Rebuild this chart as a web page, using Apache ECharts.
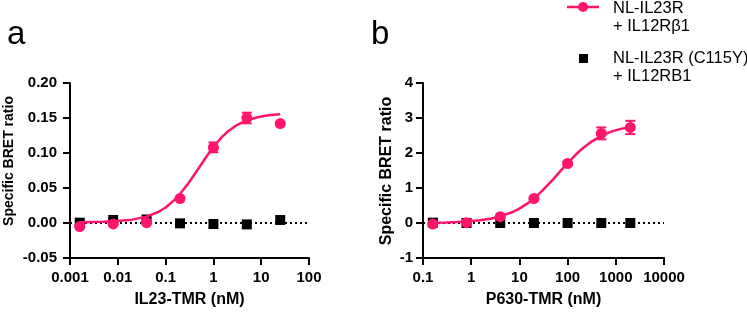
<!DOCTYPE html>
<html lang="en">
<head>
    <meta charset="UTF-8">
    <title>IL23R BRET</title>
    <script src="https://cdn.jsdelivr.net/npm/echarts@6/dist/echarts.min.js"></script>
    <style>
        body{ margin:0; background:#fff }
        #main{ width:747px; height:313px }
    </style>
</head>
<body>
<div id="main"></div>
<script type="text/javascript">
    // panel a : IL23-TMR
    var concA = [0.0016, 0.008, 0.04, 0.2, 1, 5, 25];
    var wtA = [-0.005, -0.0014, 0.0005, 0.035, 0.108, 0.150, 0.142];
    var wtErrA = [0.001, 0.001, 0.001, 0.002, 0.007, 0.0076, 0.002];
    var mutA = [0.0005, 0.0043, 0.005, -0.0005, -0.0014, -0.002, 0.0043];
    var fitXA = [0.0016, 0.005, 0.01, 0.02, 0.04, 0.07, 0.1, 0.15, 0.2, 0.3, 0.5, 0.7, 1, 1.5, 2, 3, 5, 8, 12, 18, 25];
    var fitYA = [0.0012, 0.0018, 0.0027, 0.0048, 0.0091, 0.0157, 0.0222, 0.0323, 0.0413, 0.0567, 0.079, 0.0939, 0.1085, 0.1226, 0.1307, 0.1394, 0.1467, 0.1508, 0.1531, 0.1545, 0.1553];
    var zeroXA = [0.001, 140];

    // panel b : P630-TMR
    var concB = [0.16, 0.8, 4, 20, 100, 500, 2000];
    var wtB = [-0.03, 0.01, 0.18, 0.70, 1.70, 2.56, 2.73];
    var wtErrB = [0.02, 0.02, 0.02, 0.03, 0.04, 0.17, 0.19];
    var mutB = [0.01, 0.0, 0.0, 0.0, 0.0, 0.0, 0.0];
    var fitXB = [0.16, 0.3, 0.5, 0.8, 1.5, 2.5, 4, 7, 10, 15, 20, 30, 50, 70, 100, 150, 200, 300, 500, 800, 1200, 2000];
    var fitYB = [0.01, 0.017, 0.028, 0.043, 0.077, 0.123, 0.188, 0.306, 0.412, 0.567, 0.702, 0.924, 1.248, 1.475, 1.713, 1.963, 2.121, 2.31, 2.49, 2.61, 2.682, 2.744];
    var zeroXB = [0.1, 10000];

    var pink = '#ff156c';
    var font = 'Liberation Sans, Arial, sans-serif';

    function zip(xs, ys) {
        return xs.map(function (x, i) { return [x, ys[i]]; });
    }
    function errData(xs, ys, es) {
        return xs.map(function (x, i) { return [x, ys[i] - es[i], ys[i] + es[i]]; });
    }
    function errBars(params, api) {
        var x = api.value(0);
        var lo = api.coord([x, api.value(1)]);
        var hi = api.coord([x, api.value(2)]);
        var st = { stroke: pink, lineWidth: 2 };
        return {
            type: 'group',
            children: [
                { type: 'line', shape: { x1: lo[0], y1: lo[1], x2: hi[0], y2: hi[1] }, style: st },
                { type: 'line', shape: { x1: lo[0] - 5, y1: lo[1], x2: lo[0] + 5, y2: lo[1] }, style: st },
                { type: 'line', shape: { x1: hi[0] - 5, y1: hi[1], x2: hi[0] + 5, y2: hi[1] }, style: st }
            ]
        };
    }
    function xAxis(idx, min, max, name) {
        return {
            type: 'log', logBase: 10, gridIndex: idx, min: min, max: max, splitNumber: 5,
            name: name, nameLocation: 'middle', nameGap: 34,
            nameTextStyle: { fontFamily: font, fontWeight: 'bold', fontSize: 16, color: '#000' },
            axisLine: { onZero: false, lineStyle: { color: '#000', width: 2 } },
            axisTick: { length: 7, lineStyle: { width: 2 } },
            minorTick: { show: false },
            splitLine: { show: false },
            axisLabel: {
                margin: 12, fontFamily: font, fontWeight: 'bold', fontSize: 15, color: '#000',
                formatter: function (v) { return String(+v.toPrecision(3)); }
            }
        };
    }
    function yAxis(idx, min, max, step, dec, margin) {
        return {
            type: 'value', gridIndex: idx, min: min, max: max, interval: step,
            axisLine: { show: true, onZero: false, lineStyle: { color: '#000', width: 2 } },
            axisTick: { show: true, length: 7, lineStyle: { width: 2 } },
            splitLine: { show: false },
            axisLabel: {
                margin: margin, fontFamily: font, fontWeight: 'bold', fontSize: 15, color: '#000',
                formatter: function (v) { return v.toFixed(dec); }
            }
        };
    }
    function panelSeries(idx, conc, wt, err, mut, fx, fy, zx) {
        return [
            {
                type: 'line', xAxisIndex: idx, yAxisIndex: idx, data: zx.map(function (x) { return [x, 0]; }),
                symbol: 'none', clip: false, silent: true,
                lineStyle: { color: '#000', width: 2, type: [2, 3] }
            },
            {
                type: 'scatter', xAxisIndex: idx, yAxisIndex: idx, data: zip(conc, mut),
                symbol: 'rect', symbolSize: 10, itemStyle: { color: '#000', opacity: 1 }, z: 3
            },
            {
                type: 'line', xAxisIndex: idx, yAxisIndex: idx, data: zip(fx, fy),
                symbol: 'none', smooth: false,
                lineStyle: { color: pink, width: 2.5 }, z: 4
            },
            {
                type: 'custom', xAxisIndex: idx, yAxisIndex: idx, data: errData(conc, wt, err),
                renderItem: errBars, encode: { x: 0, y: [1, 2] }, z: 5
            },
            {
                type: 'scatter', xAxisIndex: idx, yAxisIndex: idx, data: zip(conc, wt),
                symbol: 'circle', symbolSize: 11, itemStyle: { color: pink, opacity: 1 }, z: 6
            }
        ];
    }

    var myChart = echarts.init(document.getElementById('main'));
    var option = {
        animation: false,
        backgroundColor: '#fff',
        grid: [
            { left: 70, top: 83, width: 239, height: 175 },
            { left: 423, top: 83, width: 241, height: 175 }
        ],
        xAxis: [
            xAxis(0, 0.001, 100, 'IL23-TMR (nM)'),
            xAxis(1, 0.1, 10000, 'P630-TMR (nM)')
        ],
        yAxis: [
            yAxis(0, -0.05, 0.2, 0.05, 2, 13),
            yAxis(1, -1, 4, 1, 0, 10)
        ],
        series: panelSeries(0, concA, wtA, wtErrA, mutA, fitXA, fitYA, zeroXA)
            .concat(panelSeries(1, concB, wtB, wtErrB, mutB, fitXB, fitYB, zeroXB)),
        graphic: [
            { type: 'text', left: 7, top: 18, style: { text: 'a', font: '33px ' + font, fill: '#000' } },
            { type: 'text', left: 371, top: 18, style: { text: 'b', font: '33px ' + font, fill: '#000' } },
            { type: 'text', x: 9, y: 161, rotation: Math.PI / 2,
              style: { text: 'Specific BRET ratio', font: 'bold 14px ' + font, fill: '#000', align: 'center', verticalAlign: 'middle' } },
            { type: 'text', x: 387, y: 171, rotation: Math.PI / 2,
              style: { text: 'Specific BRET ratio', font: 'bold 16px ' + font, fill: '#000', align: 'center', verticalAlign: 'middle' } },
            // legend
            { type: 'line', shape: { x1: 567, y1: 7, x2: 599, y2: 7 }, style: { stroke: pink, lineWidth: 2.5 } },
            { type: 'circle', shape: { cx: 583, cy: 7, r: 5 }, style: { fill: pink } },
            { type: 'text', x: 613, y: -1, style: { text: 'NL-IL23R\n+ IL12R\u03b21', font: '16.5px ' + font, fill: '#000', lineHeight: 18, verticalAlign: 'top' } },
            { type: 'rect', shape: { x: 579, y: 54, width: 9, height: 9 }, style: { fill: '#000' } },
            { type: 'text', x: 613, y: 49, style: { text: 'NL-IL23R (C115Y)\n+ IL12RB1', font: '16.5px ' + font, fill: '#000', lineHeight: 18, verticalAlign: 'top' } }
        ]
    };
    myChart.setOption(option);
</script>
</body>
</html>
